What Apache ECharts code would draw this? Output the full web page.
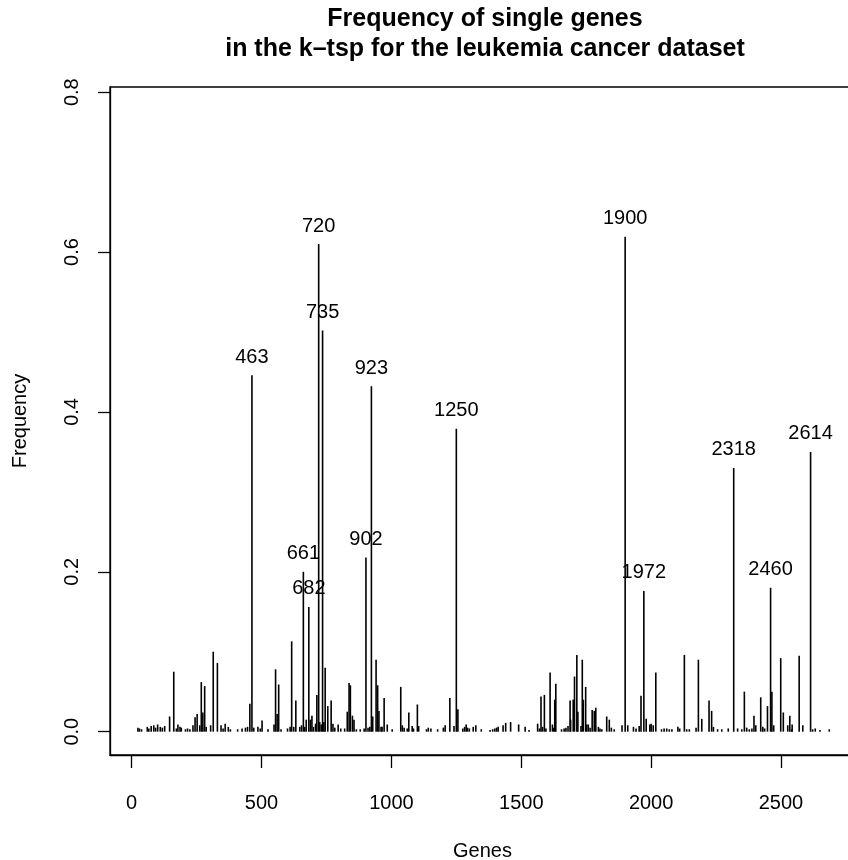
<!DOCTYPE html>
<html>
<head>
<meta charset="utf-8">
<script src="https://cdn.jsdelivr.net/npm/echarts@6/dist/echarts.min.js"></script>
<style>html,body{margin:0;padding:0;background:#fff}#c{width:848px;height:860px}</style>
</head>
<body>
<div id="c"></div>
<script>
const genes = [24,30,38,60,66,75,85,92,100,110,118,127,146,162,172,178,186,191,207,215,224,236,244,252,262,268,274,281,287,304,314,330,344,352,360,372,380,408,425,438,446,455,463,470,486,495,502,525,548,554,560,566,575,600,610,616,624,632,647,654,661,666,672,682,688,694,700,708,713,720,724,730,735,740,745,755,768,775,782,795,805,820,830,837,842,850,856,865,880,895,902,910,917,923,928,941,947,952,960,964,972,984,1003,1036,1042,1049,1061,1067,1080,1085,1100,1105,1135,1142,1152,1178,1200,1207,1225,1241,1250,1256,1275,1282,1288,1293,1300,1315,1325,1346,1380,1390,1398,1405,1411,1430,1440,1459,1490,1515,1530,1563,1570,1576,1582,1589,1595,1611,1620,1625,1629,1633,1655,1665,1672,1680,1688,1690,1700,1705,1714,1718,1730,1735,1739,1748,1752,1758,1765,1773,1781,1787,1797,1803,1810,1829,1839,1847,1858,1888,1900,1910,1932,1942,1954,1961,1972,1981,1995,2000,2008,2018,2040,2050,2060,2070,2080,2103,2110,2128,2137,2147,2173,2182,2195,2223,2233,2240,2256,2272,2297,2318,2333,2349,2359,2368,2378,2388,2396,2403,2422,2430,2437,2448,2460,2465,2472,2499,2509,2526,2534,2541,2543,2570,2584,2614,2622,2632,2650,2686];
const freq = [0.005,0.004,0.003,0.006,0.004,0.007,0.008,0.005,0.009,0.006,0.005,0.007,0.019,0.075,0.004,0.009,0.006,0.005,0.003,0.004,0.003,0.008,0.018,0.022,0.008,0.062,0.024,0.057,0.006,0.008,0.1,0.086,0.008,0.004,0.01,0.006,0.003,0.003,0.004,0.005,0.006,0.035,0.446,0.005,0.006,0.004,0.014,0.003,0.009,0.078,0.022,0.059,0.003,0.004,0.006,0.113,0.006,0.039,0.006,0.008,0.2,0.006,0.015,0.156,0.015,0.02,0.006,0.01,0.046,0.61,0.012,0.009,0.502,0.012,0.08,0.032,0.039,0.01,0.005,0.009,0.004,0.004,0.025,0.061,0.058,0.02,0.015,0.003,0.003,0.004,0.218,0.005,0.006,0.432,0.019,0.09,0.058,0.026,0.006,0.006,0.042,0.009,0.003,0.056,0.008,0.005,0.004,0.024,0.007,0.004,0.034,0.007,0.003,0.005,0.004,0.003,0.005,0.008,0.042,0.007,0.379,0.028,0.004,0.006,0.009,0.005,0.004,0.006,0.008,0.003,0.002,0.003,0.004,0.005,0.006,0.008,0.011,0.012,0.009,0.006,0.002,0.01,0.004,0.044,0.006,0.046,0.004,0.074,0.009,0.005,0.04,0.06,0.003,0.004,0.005,0.007,0.039,0.015,0.04,0.069,0.096,0.025,0.007,0.09,0.04,0.056,0.009,0.009,0.005,0.027,0.026,0.03,0.006,0.004,0.003,0.019,0.015,0.005,0.003,0.008,0.619,0.008,0.006,0.004,0.007,0.045,0.176,0.016,0.009,0.01,0.008,0.074,0.003,0.004,0.004,0.003,0.003,0.006,0.004,0.096,0.003,0.003,0.005,0.09,0.016,0.039,0.026,0.006,0.003,0.003,0.004,0.33,0.004,0.003,0.05,0.005,0.003,0.004,0.02,0.008,0.043,0.006,0.004,0.032,0.18,0.05,0.008,0.092,0.024,0.008,0.02,0.003,0.009,0.095,0.008,0.35,0.003,0.004,0.002,0.003];
const labeledGenes = [463,661,682,720,735,902,923,1250,1900,1972,2318,2460,2614];
const xTicks = [0,500,1000,1500,2000,2500];
const yTicks = [0,0.2,0.4,0.6,0.8];

const FONT = '"Liberation Sans", Arial, Helvetica, sans-serif';
const data = genes.map((g, i) => {
  const item = { value: [g, freq[i]] };
  if (labeledGenes.includes(g)) {
    item.label = { show: true, position: 'top', distance: 8, formatter: String(g),
      color: '#000', fontSize: 20, fontFamily: FONT, lineHeight: 20 };
  }
  return item;
});

const chart = echarts.init(document.getElementById('c'), null, { renderer: 'canvas' });
chart.setOption({
  animation: false,
  backgroundColor: '#fff',
  title: {
    text: 'Frequency of single genes\nin the k\u2013tsp for the leukemia cancer dataset',
    left: 480, top: -1, textAlign: 'center',
    textStyle: { fontFamily: FONT, fontWeight: 'bold', fontSize: 25, lineHeight: 30, color: '#000' }
  },
  grid: { left: 110, top: 87, width: 745, height: 668, containLabel: false, outerBoundsMode: 'none',
    show: true, borderColor: '#000', borderWidth: 1.3, backgroundColor: 'transparent' },
  xAxis: {
    type: 'value', min: -83.5, max: 2785,
    name: 'Genes', nameLocation: 'middle', nameGap: 86,
    nameTextStyle: { fontFamily: FONT, fontSize: 20, color: '#000' },
    splitLine: { show: false },
    axisLine: { show: true, onZero: false, lineStyle: { color: '#000', width: 1.3 } },
    axisTick: { show: true, length: 13, customValues: xTicks, lineStyle: { color: '#000', width: 1.3 } },
    axisLabel: { customValues: xTicks, margin: 38, fontFamily: FONT, fontSize: 20, color: '#000',
      formatter: v => String(v) }
  },
  yAxis: {
    type: 'value', min: -0.0292, max: 0.8065,
    name: 'Frequency', nameLocation: 'middle', nameGap: 80, nameRotate: 90,
    nameTextStyle: { fontFamily: FONT, fontSize: 20, color: '#000' },
    splitLine: { show: false },
    axisLine: { show: true, onZero: false, lineStyle: { color: '#000', width: 1.3 } },
    axisTick: { show: true, length: 12, customValues: yTicks, lineStyle: { color: '#000', width: 1.3 } },
    axisLabel: { customValues: yTicks, rotate: 90, margin: 28, fontFamily: FONT, fontSize: 20, color: '#000',
      formatter: v => Number(v).toFixed(1) }
  },
  series: [{
    type: 'bar',
    data: data,
    barWidth: 1.6,
    itemStyle: { color: '#000' },
    silent: true
  }]
});
</script>
</body>
</html>
